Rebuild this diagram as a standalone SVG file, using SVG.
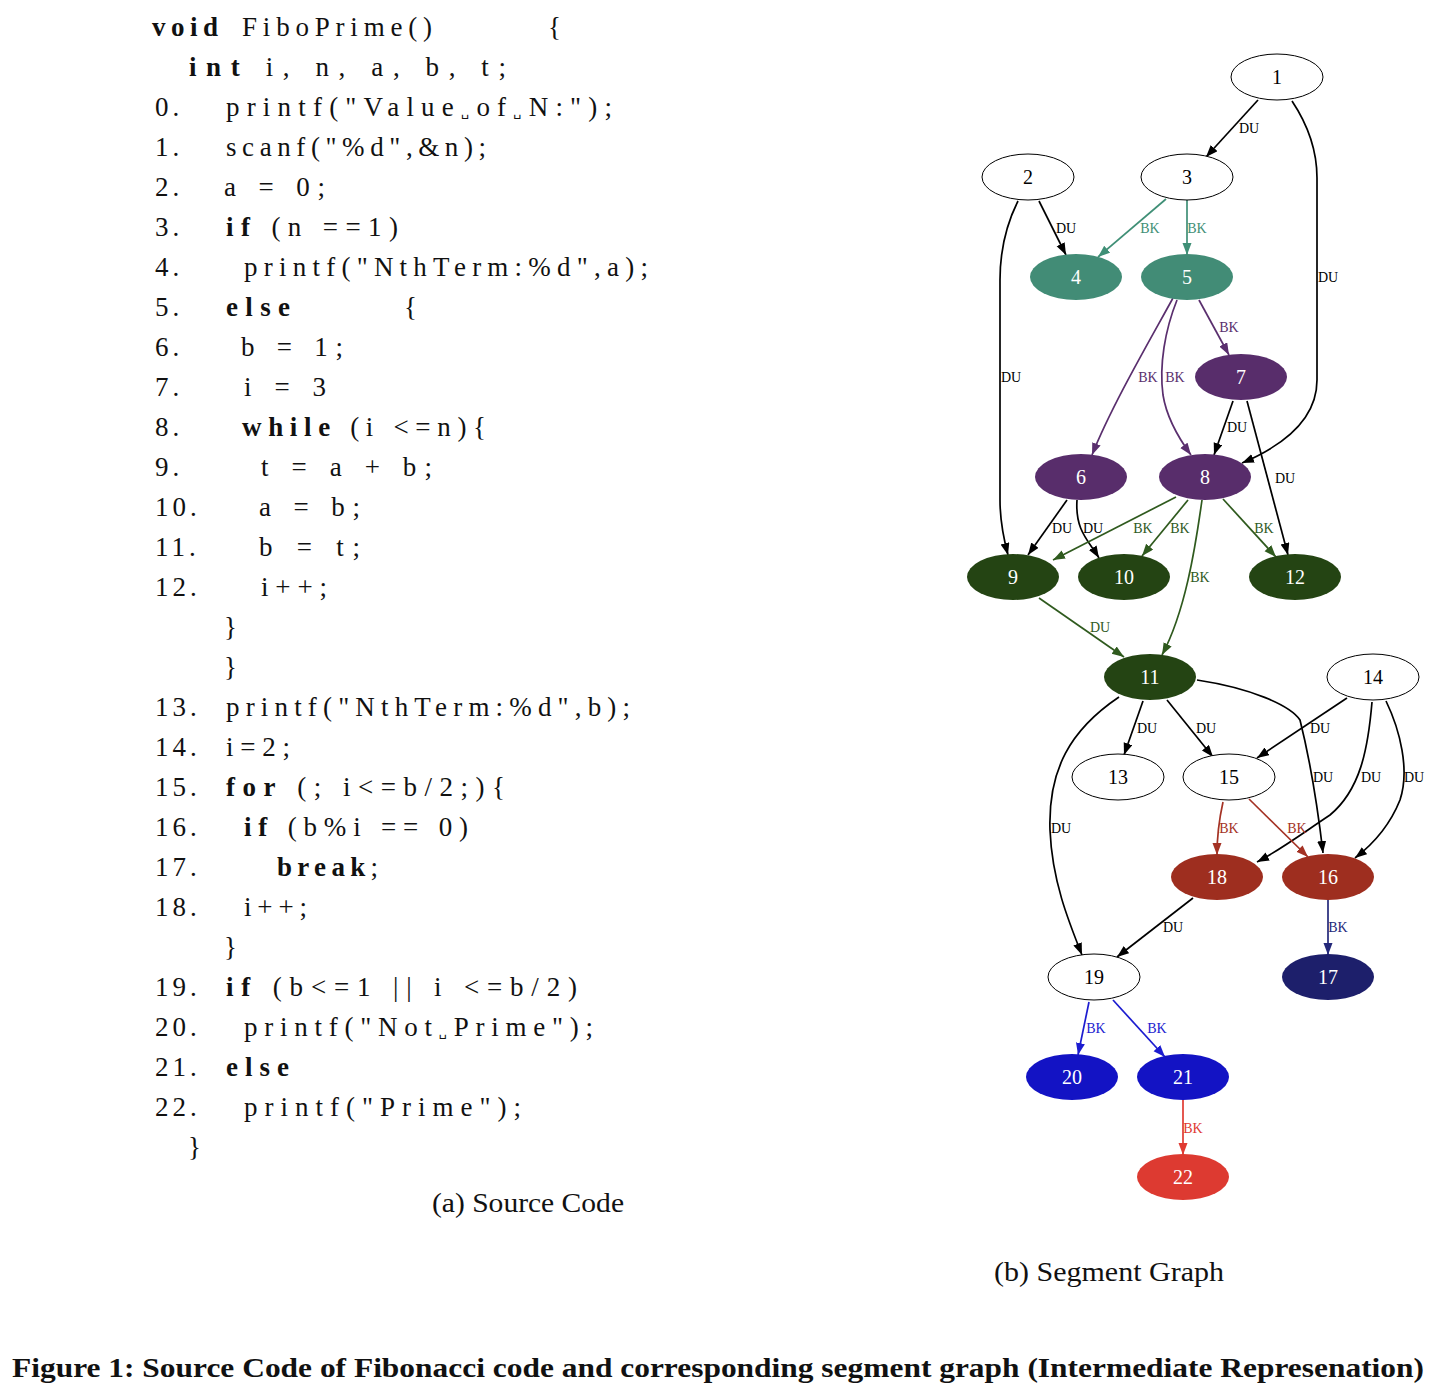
<svg xmlns="http://www.w3.org/2000/svg" width="1436" height="1388" viewBox="0 0 1436 1388">
<style>
.code{font-family:"Liberation Serif","DejaVu Serif",serif;font-size:27px;fill:#111;}
.b{font-weight:bold;}
.sp{font-family:"DejaVu Sans",sans-serif;font-size:13px;}
.cap{font-family:"Liberation Serif","DejaVu Serif",serif;font-size:28px;fill:#111;}
.nl{font-family:"Liberation Serif","DejaVu Serif",serif;font-size:20px;text-anchor:middle;}
.el{font-family:"Liberation Serif","DejaVu Serif",serif;font-size:14px;text-anchor:middle;}
.e{fill:none;stroke-width:1.7;}
.k{stroke:#000;} .kt{fill:#000;}
.teal{stroke:#3f8f76;} .tealt{fill:#3f8f76;}
.pur{stroke:#5a2f6e;} .purt{fill:#5a2f6e;}
.grn{stroke:#2f5a1e;} .grnt{fill:#2f5a1e;}
.brn{stroke:#a43224;} .brnt{fill:#a43224;}
.nav{stroke:#24287a;} .navt{fill:#24287a;}
.blu{stroke:#1c1cd0;} .blut{fill:#1c1cd0;}
.red{stroke:#e03a32;} .redt{fill:#e03a32;}
</style>
<defs>
<marker id="mk" markerUnits="userSpaceOnUse" markerWidth="13" markerHeight="10" refX="12" refY="4.5" orient="auto"><path d="M0,0 L12,4.5 L0,9 z" fill="#000"/></marker>
<marker id="mteal" markerUnits="userSpaceOnUse" markerWidth="13" markerHeight="10" refX="12" refY="4.5" orient="auto"><path d="M0,0 L12,4.5 L0,9 z" fill="#3f8f76"/></marker>
<marker id="mpur" markerUnits="userSpaceOnUse" markerWidth="13" markerHeight="10" refX="12" refY="4.5" orient="auto"><path d="M0,0 L12,4.5 L0,9 z" fill="#5a2f6e"/></marker>
<marker id="mgrn" markerUnits="userSpaceOnUse" markerWidth="13" markerHeight="10" refX="12" refY="4.5" orient="auto"><path d="M0,0 L12,4.5 L0,9 z" fill="#2f5a1e"/></marker>
<marker id="mbrn" markerUnits="userSpaceOnUse" markerWidth="13" markerHeight="10" refX="12" refY="4.5" orient="auto"><path d="M0,0 L12,4.5 L0,9 z" fill="#a43224"/></marker>
<marker id="mnav" markerUnits="userSpaceOnUse" markerWidth="13" markerHeight="10" refX="12" refY="4.5" orient="auto"><path d="M0,0 L12,4.5 L0,9 z" fill="#24287a"/></marker>
<marker id="mblu" markerUnits="userSpaceOnUse" markerWidth="13" markerHeight="10" refX="12" refY="4.5" orient="auto"><path d="M0,0 L12,4.5 L0,9 z" fill="#1c1cd0"/></marker>
<marker id="mred" markerUnits="userSpaceOnUse" markerWidth="13" markerHeight="10" refX="12" refY="4.5" orient="auto"><path d="M0,0 L12,4.5 L0,9 z" fill="#e03a32"/></marker>
</defs>
<rect width="1436" height="1388" fill="#fff"/>

<g id="source-code" xml:space="preserve">
<text class="code b" x="152" y="36" textLength="66" lengthAdjust="spacing">void</text>
<text class="code" x="242" y="36" textLength="190" lengthAdjust="spacing">FiboPrime()</text>
<text class="code" x="548" y="36">{</text>
<text class="code" x="189" y="76" textLength="317" lengthAdjust="spacing"><tspan class="b">int</tspan> i, n, a, b, t;</text>
<text class="code" x="155" y="116" letter-spacing="4">0.</text>
<text class="code" x="226" y="116" textLength="386" lengthAdjust="spacing">printf("Value<tspan class="sp">␣</tspan>of<tspan class="sp">␣</tspan>N:");</text>
<text class="code" x="155" y="156" letter-spacing="4">1.</text>
<text class="code" x="226" y="156" textLength="260" lengthAdjust="spacing">scanf("%d",&amp;n);</text>
<text class="code" x="155" y="196" letter-spacing="4">2.</text>
<text class="code" x="224" y="196" textLength="101" lengthAdjust="spacing">a = 0;</text>
<text class="code" x="155" y="236" letter-spacing="4">3.</text>
<text class="code" x="226" y="236" textLength="172" lengthAdjust="spacing"><tspan class="b">if</tspan> (n ==1)</text>
<text class="code" x="155" y="276" letter-spacing="4">4.</text>
<text class="code" x="244" y="276" textLength="404" lengthAdjust="spacing">printf("NthTerm:%d",a);</text>
<text class="code" x="155" y="316" letter-spacing="4">5.</text>
<text class="code b" x="226" y="316" textLength="64" lengthAdjust="spacing">else</text>
<text class="code" x="404" y="316">{</text>
<text class="code" x="155" y="356" letter-spacing="4">6.</text>
<text class="code" x="241" y="356" textLength="102" lengthAdjust="spacing">b = 1;</text>
<text class="code" x="155" y="396" letter-spacing="4">7.</text>
<text class="code" x="244" y="396" textLength="82" lengthAdjust="spacing">i = 3</text>
<text class="code" x="155" y="436" letter-spacing="4">8.</text>
<text class="code" x="242" y="436" textLength="244" lengthAdjust="spacing"><tspan class="b">while</tspan> (i &lt;=n){</text>
<text class="code" x="155" y="476" letter-spacing="4">9.</text>
<text class="code" x="261" y="476" textLength="171" lengthAdjust="spacing">t = a + b;</text>
<text class="code" x="155" y="516" letter-spacing="4">10.</text>
<text class="code" x="259" y="516" textLength="101" lengthAdjust="spacing">a = b;</text>
<text class="code" x="155" y="556" letter-spacing="4">11.</text>
<text class="code" x="259" y="556" textLength="101" lengthAdjust="spacing">b = t;</text>
<text class="code" x="155" y="596" letter-spacing="4">12.</text>
<text class="code" x="261" y="596" textLength="66" lengthAdjust="spacing">i++;</text>
<text class="code" x="224" y="636">}</text>
<text class="code" x="224" y="676">}</text>
<text class="code" x="155" y="716" letter-spacing="4">13.</text>
<text class="code" x="226" y="716" textLength="404" lengthAdjust="spacing">printf("NthTerm:%d",b);</text>
<text class="code" x="155" y="756" letter-spacing="4">14.</text>
<text class="code" x="226" y="756" textLength="64" lengthAdjust="spacing">i=2;</text>
<text class="code" x="155" y="796" letter-spacing="4">15.</text>
<text class="code" x="226" y="796" textLength="279" lengthAdjust="spacing"><tspan class="b">for</tspan> (; i&lt;=b/2;){</text>
<text class="code" x="155" y="836" letter-spacing="4">16.</text>
<text class="code" x="244" y="836" textLength="224" lengthAdjust="spacing"><tspan class="b">if</tspan> (b%i == 0)</text>
<text class="code" x="155" y="876" letter-spacing="4">17.</text>
<text class="code" x="277" y="876" textLength="101" lengthAdjust="spacing"><tspan class="b">break</tspan>;</text>
<text class="code" x="155" y="916" letter-spacing="4">18.</text>
<text class="code" x="244" y="916" textLength="63" lengthAdjust="spacing">i++;</text>
<text class="code" x="224" y="956">}</text>
<text class="code" x="155" y="996" letter-spacing="4">19.</text>
<text class="code" x="226" y="996" textLength="351" lengthAdjust="spacing"><tspan class="b">if</tspan> (b&lt;=1 || i &lt;=b/2)</text>
<text class="code" x="155" y="1036" letter-spacing="4">20.</text>
<text class="code" x="244" y="1036" textLength="349" lengthAdjust="spacing">printf("Not<tspan class="sp">␣</tspan>Prime");</text>
<text class="code" x="155" y="1076" letter-spacing="4">21.</text>
<text class="code b" x="226" y="1076" textLength="63" lengthAdjust="spacing">else</text>
<text class="code" x="155" y="1116" letter-spacing="4">22.</text>
<text class="code" x="244" y="1116" textLength="277" lengthAdjust="spacing">printf("Prime");</text>
<text class="code" x="188" y="1156">}</text>
</g>

<g id="captions">
<text class="cap" x="432" y="1212" textLength="192" lengthAdjust="spacingAndGlyphs">(a) Source Code</text>
<text class="cap" x="994" y="1281" textLength="230" lengthAdjust="spacingAndGlyphs">(b) Segment Graph</text>
<text class="cap b" x="12" y="1377" textLength="1412" lengthAdjust="spacingAndGlyphs">Figure 1: Source Code of Fibonacci code and corresponding segment graph (Intermediate Represenation)</text>
</g>

<g id="connectors">
<path class="e k" d="M1258,100 L1206,157" marker-end="url(#mk)"/><text class="el kt" x="1249" y="133">DU</text>
<path class="e k" d="M1292,101 C1308,125 1317,150 1317,178 L1317,380 C1317,420 1282,446 1242,463" marker-end="url(#mk)"/><text class="el kt" x="1328" y="282">DU</text>
<path class="e k" d="M1039,201 L1066,255" marker-end="url(#mk)"/><text class="el kt" x="1066" y="233">DU</text>
<path class="e k" d="M1018,201 C1006,225 1000,250 1000,280 L1000,500 C1000,520 1004,540 1008,555" marker-end="url(#mk)"/><text class="el kt" x="1011" y="382">DU</text>
<path class="e teal" d="M1166,199 L1098,257" marker-end="url(#mteal)"/><text class="el tealt" x="1150" y="233">BK</text>
<path class="e teal" d="M1187,200 L1187,255" marker-end="url(#mteal)"/><text class="el tealt" x="1197" y="233">BK</text>
<path class="e pur" d="M1199,300 L1229,355" marker-end="url(#mpur)"/><text class="el purt" x="1229" y="332">BK</text>
<path class="e pur" d="M1173,298 C1150,340 1112,405 1092,455" marker-end="url(#mpur)"/><text class="el purt" x="1148" y="382">BK</text>
<path class="e pur" d="M1177,300 C1165,330 1159,365 1163,395 C1167,420 1180,440 1191,455" marker-end="url(#mpur)"/><text class="el purt" x="1175" y="382">BK</text>
<path class="e k" d="M1233,401 L1214,455" marker-end="url(#mk)"/><text class="el kt" x="1237" y="432">DU</text>
<path class="e k" d="M1247,401 L1288,555" marker-end="url(#mk)"/><text class="el kt" x="1285" y="483">DU</text>
<path class="e k" d="M1067,500 L1028,555" marker-end="url(#mk)"/><text class="el kt" x="1062" y="533">DU</text>
<path class="e k" d="M1077,500 C1075,530 1088,540 1099,558" marker-end="url(#mk)"/><text class="el kt" x="1093" y="533">DU</text>
<path class="e grn" d="M1176,497 L1053,560" marker-end="url(#mgrn)"/><text class="el grnt" x="1143" y="533">BK</text>
<path class="e grn" d="M1188,500 L1142,556" marker-end="url(#mgrn)"/><text class="el grnt" x="1180" y="533">BK</text>
<path class="e grn" d="M1202,500 C1195,550 1185,612 1162,655" marker-end="url(#mgrn)"/><text class="el grnt" x="1200" y="582">BK</text>
<path class="e grn" d="M1223,499 L1276,557" marker-end="url(#mgrn)"/><text class="el grnt" x="1264" y="533">BK</text>
<path class="e grn" d="M1039,598 L1124,657" marker-end="url(#mgrn)"/><text class="el grnt" x="1100" y="632">DU</text>
<path class="e k" d="M1143,701 L1124,755" marker-end="url(#mk)"/><text class="el kt" x="1147" y="733">DU</text>
<path class="e k" d="M1167,700 L1213,757" marker-end="url(#mk)"/><text class="el kt" x="1206" y="733">DU</text>
<path class="e k" d="M1197,680 C1250,688 1290,705 1300,720 C1310,760 1318,810 1323,853" marker-end="url(#mk)"/><text class="el kt" x="1323" y="782">DU</text>
<path class="e k" d="M1119,697 C1070,730 1048,770 1050,830 C1052,880 1068,920 1082,955" marker-end="url(#mk)"/><text class="el kt" x="1061" y="833">DU</text>
<path class="e k" d="M1347,698 L1257,758" marker-end="url(#mk)"/><text class="el kt" x="1320" y="733">DU</text>
<path class="e k" d="M1372,702 C1368,750 1360,790 1330,815 C1300,835 1280,850 1257,862" marker-end="url(#mk)"/><text class="el kt" x="1371" y="782">DU</text>
<path class="e k" d="M1386,701 C1400,730 1410,770 1400,800 C1390,825 1372,845 1355,858" marker-end="url(#mk)"/><text class="el kt" x="1414" y="782">DU</text>
<path class="e brn" d="M1223,802 C1219,820 1217,838 1217,855" marker-end="url(#mbrn)"/><text class="el brnt" x="1229" y="833">BK</text>
<path class="e brn" d="M1249,799 L1308,857" marker-end="url(#mbrn)"/><text class="el brnt" x="1297" y="833">BK</text>
<path class="e k" d="M1193,898 L1117,957" marker-end="url(#mk)"/><text class="el kt" x="1173" y="932">DU</text>
<path class="e nav" d="M1328,900 L1328,955" marker-end="url(#mnav)"/><text class="el navt" x="1338" y="932">BK</text>
<path class="e blu" d="M1089,1002 L1078,1055" marker-end="url(#mblu)"/><text class="el blut" x="1096" y="1033">BK</text>
<path class="e blu" d="M1113,1000 L1165,1057" marker-end="url(#mblu)"/><text class="el blut" x="1157" y="1033">BK</text>
<path class="e red" d="M1183,1100 L1183,1155" marker-end="url(#mred)"/><text class="el redt" x="1193" y="1133">BK</text>
</g>

<g id="node-1"><ellipse cx="1277" cy="77" rx="46" ry="23" fill="#fff" stroke="#000"/><text class="nl" x="1277" y="84">1</text></g>
<g id="node-2"><ellipse cx="1028" cy="177" rx="46" ry="23" fill="#fff" stroke="#000"/><text class="nl" x="1028" y="184">2</text></g>
<g id="node-3"><ellipse cx="1187" cy="177" rx="46" ry="23" fill="#fff" stroke="#000"/><text class="nl" x="1187" y="184">3</text></g>
<g id="node-4"><ellipse cx="1076" cy="277" rx="46" ry="23" fill="#428c76"/><text class="nl" x="1076" y="284" fill="#fff">4</text></g>
<g id="node-5"><ellipse cx="1187" cy="277" rx="46" ry="23" fill="#428c76"/><text class="nl" x="1187" y="284" fill="#fff">5</text></g>
<g id="node-7"><ellipse cx="1241" cy="377" rx="46" ry="23" fill="#582d6b"/><text class="nl" x="1241" y="384" fill="#fff">7</text></g>
<g id="node-6"><ellipse cx="1081" cy="477" rx="46" ry="23" fill="#582d6b"/><text class="nl" x="1081" y="484" fill="#fff">6</text></g>
<g id="node-8"><ellipse cx="1205" cy="477" rx="46" ry="23" fill="#582d6b"/><text class="nl" x="1205" y="484" fill="#fff">8</text></g>
<g id="node-9"><ellipse cx="1013" cy="577" rx="46" ry="23" fill="#244413"/><text class="nl" x="1013" y="584" fill="#fff">9</text></g>
<g id="node-10"><ellipse cx="1124" cy="577" rx="46" ry="23" fill="#244413"/><text class="nl" x="1124" y="584" fill="#fff">10</text></g>
<g id="node-12"><ellipse cx="1295" cy="577" rx="46" ry="23" fill="#244413"/><text class="nl" x="1295" y="584" fill="#fff">12</text></g>
<g id="node-11"><ellipse cx="1150" cy="677" rx="46" ry="23" fill="#244413"/><text class="nl" x="1150" y="684" fill="#fff">11</text></g>
<g id="node-14"><ellipse cx="1373" cy="677" rx="46" ry="23" fill="#fff" stroke="#000"/><text class="nl" x="1373" y="684">14</text></g>
<g id="node-13"><ellipse cx="1118" cy="777" rx="46" ry="23" fill="#fff" stroke="#000"/><text class="nl" x="1118" y="784">13</text></g>
<g id="node-15"><ellipse cx="1229" cy="777" rx="46" ry="23" fill="#fff" stroke="#000"/><text class="nl" x="1229" y="784">15</text></g>
<g id="node-18"><ellipse cx="1217" cy="877" rx="46" ry="23" fill="#9e2e1f"/><text class="nl" x="1217" y="884" fill="#fff">18</text></g>
<g id="node-16"><ellipse cx="1328" cy="877" rx="46" ry="23" fill="#9e2e1f"/><text class="nl" x="1328" y="884" fill="#fff">16</text></g>
<g id="node-19"><ellipse cx="1094" cy="977" rx="46" ry="23" fill="#fff" stroke="#000"/><text class="nl" x="1094" y="984">19</text></g>
<g id="node-17"><ellipse cx="1328" cy="977" rx="46" ry="23" fill="#1d1f6b"/><text class="nl" x="1328" y="984" fill="#fff">17</text></g>
<g id="node-20"><ellipse cx="1072" cy="1077" rx="46" ry="23" fill="#1313c4"/><text class="nl" x="1072" y="1084" fill="#fff">20</text></g>
<g id="node-21"><ellipse cx="1183" cy="1077" rx="46" ry="23" fill="#1313c4"/><text class="nl" x="1183" y="1084" fill="#fff">21</text></g>
<g id="node-22"><ellipse cx="1183" cy="1177" rx="46" ry="23" fill="#dd3a31"/><text class="nl" x="1183" y="1184" fill="#fff">22</text></g>
</svg>
